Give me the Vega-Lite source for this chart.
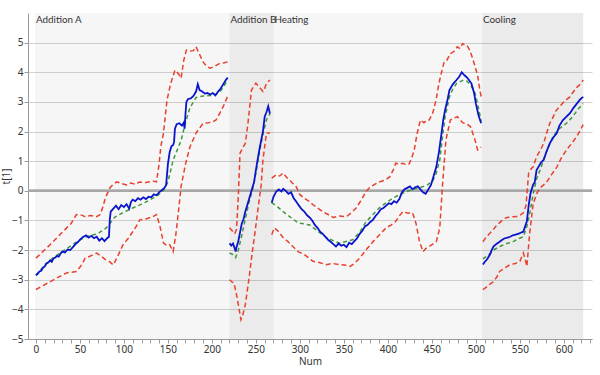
{
  "$schema": "https://vega.github.io/schema/vega-lite/v6.json",
  "width": 564,
  "height": 326,
  "autosize": "none",
  "padding": {"left": 28, "top": 13, "right": 8, "bottom": 36},
  "background": "white",
  "config": {
    "view": {"stroke": null},
    "axis": {"labelFont": "Noto Sans", "titleFont": "Noto Sans", "labelColor": "#333", "titleColor": "#333", "labelFontSize": 10, "titleFontSize": 10, "titleFontWeight": "normal", "domainColor": "#9a9a9a", "tickColor": "#9a9a9a", "labelOverlap": false},
    "axisX": {"tickSize": 4, "labelPadding": 1, "grid": false, "titlePadding": 2, "labelFlush": false},
    "axisY": {"grid": true, "gridColor": "#d4d4d4", "labelPadding": 1, "titlePadding": 0}
  },
  "datasets": {
    "bands": [
      {"phase": "Addition A", "start": -1, "end": 220},
      {"phase": "Addition B", "start": 220, "end": 270},
      {"phase": "Heating", "start": 270, "end": 507},
      {"phase": "Cooling", "start": 507, "end": 622}
    ],
    "pts": [
      {"s":"up","p":"A","n":0,"v":-2.27},{"s":"up","p":"A","n":8,"v":-2.05},{"s":"up","p":"A","n":16,"v":-1.82},{"s":"up","p":"A","n":25,"v":-1.55},{"s":"up","p":"A","n":35,"v":-1.25},{"s":"up","p":"A","n":40,"v":-1.1},{"s":"up","p":"A","n":46,"v":-0.8},{"s":"up","p":"A","n":52,"v":-0.82},{"s":"up","p":"A","n":56,"v":-0.87},{"s":"up","p":"A","n":62,"v":-0.83},{"s":"up","p":"A","n":69,"v":-0.87},{"s":"up","p":"A","n":73,"v":-0.8},{"s":"up","p":"A","n":76,"v":-0.55},{"s":"up","p":"A","n":79,"v":-0.24},{"s":"up","p":"A","n":84,"v":0.1},{"s":"up","p":"A","n":88,"v":0.22},{"s":"up","p":"A","n":92,"v":0.3},{"s":"up","p":"A","n":97,"v":0.25},{"s":"up","p":"A","n":103,"v":0.2},{"s":"up","p":"A","n":108,"v":0.26},{"s":"up","p":"A","n":113,"v":0.22},{"s":"up","p":"A","n":118,"v":0.3},{"s":"up","p":"A","n":125,"v":0.28},{"s":"up","p":"A","n":133,"v":0.33},{"s":"up","p":"A","n":137,"v":0.3},{"s":"up","p":"A","n":140,"v":0.9},{"s":"up","p":"A","n":142,"v":1.5},{"s":"up","p":"A","n":145,"v":1.95},{"s":"up","p":"A","n":149,"v":3.06},{"s":"up","p":"A","n":153,"v":3.6},{"s":"up","p":"A","n":158,"v":4.07},{"s":"up","p":"A","n":162,"v":3.95},{"s":"up","p":"A","n":165,"v":3.8},{"s":"up","p":"A","n":168,"v":4.4},{"s":"up","p":"A","n":171,"v":4.75},{"s":"up","p":"A","n":175,"v":4.72},{"s":"up","p":"A","n":179,"v":4.73},{"s":"up","p":"A","n":182,"v":4.86},{"s":"up","p":"A","n":186,"v":4.6},{"s":"up","p":"A","n":190,"v":4.35},{"s":"up","p":"A","n":194,"v":4.2},{"s":"up","p":"A","n":198,"v":4.14},{"s":"up","p":"A","n":203,"v":4.2},{"s":"up","p":"A","n":209,"v":4.3},{"s":"up","p":"A","n":214,"v":4.32},{"s":"up","p":"A","n":219,"v":4.36},
      {"s":"lo","p":"A","n":0,"v":-3.33},{"s":"lo","p":"A","n":8,"v":-3.2},{"s":"lo","p":"A","n":16,"v":-3.07},{"s":"lo","p":"A","n":25,"v":-2.92},{"s":"lo","p":"A","n":35,"v":-2.77},{"s":"lo","p":"A","n":46,"v":-2.72},{"s":"lo","p":"A","n":52,"v":-2.5},{"s":"lo","p":"A","n":56,"v":-2.27},{"s":"lo","p":"A","n":62,"v":-2.2},{"s":"lo","p":"A","n":69,"v":-2.1},{"s":"lo","p":"A","n":74,"v":-2.2},{"s":"lo","p":"A","n":79,"v":-2.32},{"s":"lo","p":"A","n":84,"v":-2.4},{"s":"lo","p":"A","n":88,"v":-2.5},{"s":"lo","p":"A","n":93,"v":-2.2},{"s":"lo","p":"A","n":99,"v":-1.82},{"s":"lo","p":"A","n":105,"v":-1.6},{"s":"lo","p":"A","n":110,"v":-1.38},{"s":"lo","p":"A","n":114,"v":-1.2},{"s":"lo","p":"A","n":118,"v":-0.98},{"s":"lo","p":"A","n":125,"v":-0.95},{"s":"lo","p":"A","n":133,"v":-0.87},{"s":"lo","p":"A","n":137,"v":-0.8},{"s":"lo","p":"A","n":141,"v":-1.2},{"s":"lo","p":"A","n":145,"v":-1.76},{"s":"lo","p":"A","n":149,"v":-1.85},{"s":"lo","p":"A","n":152,"v":-1.82},{"s":"lo","p":"A","n":156,"v":-2.05},{"s":"lo","p":"A","n":159,"v":-1.48},{"s":"lo","p":"A","n":162,"v":-0.7},{"s":"lo","p":"A","n":165,"v":0.15},{"s":"lo","p":"A","n":170,"v":0.9},{"s":"lo","p":"A","n":175,"v":1.48},{"s":"lo","p":"A","n":182,"v":1.95},{"s":"lo","p":"A","n":190,"v":2.28},{"s":"lo","p":"A","n":196,"v":2.3},{"s":"lo","p":"A","n":201,"v":2.32},{"s":"lo","p":"A","n":205,"v":2.4},{"s":"lo","p":"A","n":209,"v":2.62},{"s":"lo","p":"A","n":213,"v":2.85},{"s":"lo","p":"A","n":218,"v":3.2},
      {"s":"avg","p":"A","n":0,"v":-2.85},{"s":"avg","p":"A","n":10,"v":-2.5},{"s":"avg","p":"A","n":20,"v":-2.25},{"s":"avg","p":"A","n":30,"v":-2.05},{"s":"avg","p":"A","n":40,"v":-1.85},{"s":"avg","p":"A","n":50,"v":-1.65},{"s":"avg","p":"A","n":60,"v":-1.52},{"s":"avg","p":"A","n":70,"v":-1.45},{"s":"avg","p":"A","n":80,"v":-1.25},{"s":"avg","p":"A","n":90,"v":-0.88},{"s":"avg","p":"A","n":100,"v":-0.72},{"s":"avg","p":"A","n":110,"v":-0.58},{"s":"avg","p":"A","n":120,"v":-0.45},{"s":"avg","p":"A","n":130,"v":-0.3},{"s":"avg","p":"A","n":140,"v":-0.12},{"s":"avg","p":"A","n":145,"v":0.02},{"s":"avg","p":"A","n":150,"v":0.3},{"s":"avg","p":"A","n":156,"v":1.04},{"s":"avg","p":"A","n":165,"v":1.7},{"s":"avg","p":"A","n":170,"v":2.3},{"s":"avg","p":"A","n":175,"v":2.8},{"s":"avg","p":"A","n":182,"v":3.15},{"s":"avg","p":"A","n":190,"v":3.2},{"s":"avg","p":"A","n":200,"v":3.22},{"s":"avg","p":"A","n":208,"v":3.3},{"s":"avg","p":"A","n":213,"v":3.5},{"s":"avg","p":"A","n":218,"v":3.75},
      {"s":"t","p":"A","n":0,"v":-2.85},{"s":"t","p":"A","n":2,"v":-2.8},{"s":"t","p":"A","n":4,"v":-2.72},{"s":"t","p":"A","n":6,"v":-2.7},{"s":"t","p":"A","n":8,"v":-2.6},{"s":"t","p":"A","n":10,"v":-2.55},{"s":"t","p":"A","n":12,"v":-2.45},{"s":"t","p":"A","n":14,"v":-2.42},{"s":"t","p":"A","n":16,"v":-2.35},{"s":"t","p":"A","n":18,"v":-2.4},{"s":"t","p":"A","n":20,"v":-2.28},{"s":"t","p":"A","n":22,"v":-2.25},{"s":"t","p":"A","n":24,"v":-2.2},{"s":"t","p":"A","n":26,"v":-2.22},{"s":"t","p":"A","n":28,"v":-2.12},{"s":"t","p":"A","n":30,"v":-2.05},{"s":"t","p":"A","n":33,"v":-2.08},{"s":"t","p":"A","n":36,"v":-1.98},{"s":"t","p":"A","n":39,"v":-2.0},{"s":"t","p":"A","n":42,"v":-1.9},{"s":"t","p":"A","n":45,"v":-1.8},{"s":"t","p":"A","n":48,"v":-1.72},{"s":"t","p":"A","n":51,"v":-1.62},{"s":"t","p":"A","n":54,"v":-1.55},{"s":"t","p":"A","n":57,"v":-1.5},{"s":"t","p":"A","n":60,"v":-1.58},{"s":"t","p":"A","n":63,"v":-1.52},{"s":"t","p":"A","n":66,"v":-1.6},{"s":"t","p":"A","n":69,"v":-1.55},{"s":"t","p":"A","n":72,"v":-1.68},{"s":"t","p":"A","n":75,"v":-1.6},{"s":"t","p":"A","n":78,"v":-1.7},{"s":"t","p":"A","n":81,"v":-1.6},{"s":"t","p":"A","n":83,"v":-1.55},{"s":"t","p":"A","n":84,"v":-0.95},{"s":"t","p":"A","n":85,"v":-0.7},{"s":"t","p":"A","n":88,"v":-0.6},{"s":"t","p":"A","n":91,"v":-0.5},{"s":"t","p":"A","n":94,"v":-0.62},{"s":"t","p":"A","n":97,"v":-0.48},{"s":"t","p":"A","n":100,"v":-0.55},{"s":"t","p":"A","n":103,"v":-0.45},{"s":"t","p":"A","n":106,"v":-0.6},{"s":"t","p":"A","n":108,"v":-0.38},{"s":"t","p":"A","n":110,"v":-0.3},{"s":"t","p":"A","n":113,"v":-0.35},{"s":"t","p":"A","n":116,"v":-0.25},{"s":"t","p":"A","n":119,"v":-0.3},{"s":"t","p":"A","n":122,"v":-0.22},{"s":"t","p":"A","n":125,"v":-0.28},{"s":"t","p":"A","n":128,"v":-0.2},{"s":"t","p":"A","n":131,"v":-0.22},{"s":"t","p":"A","n":134,"v":-0.12},{"s":"t","p":"A","n":137,"v":-0.15},{"s":"t","p":"A","n":140,"v":-0.05},{"s":"t","p":"A","n":143,"v":0.02},{"s":"t","p":"A","n":146,"v":0.1},{"s":"t","p":"A","n":148,"v":0.2},{"s":"t","p":"A","n":150,"v":0.9},{"s":"t","p":"A","n":152,"v":1.3},{"s":"t","p":"A","n":154,"v":1.5},{"s":"t","p":"A","n":156,"v":1.55},{"s":"t","p":"A","n":157,"v":1.65},{"s":"t","p":"A","n":158,"v":2.1},{"s":"t","p":"A","n":160,"v":2.25},{"s":"t","p":"A","n":163,"v":2.28},{"s":"t","p":"A","n":166,"v":2.2},{"s":"t","p":"A","n":168,"v":2.3},{"s":"t","p":"A","n":169,"v":2.1},{"s":"t","p":"A","n":170,"v":2.6},{"s":"t","p":"A","n":171,"v":3.0},{"s":"t","p":"A","n":173,"v":3.1},{"s":"t","p":"A","n":176,"v":3.12},{"s":"t","p":"A","n":179,"v":3.2},{"s":"t","p":"A","n":182,"v":3.35},{"s":"t","p":"A","n":184,"v":3.6},{"s":"t","p":"A","n":186,"v":3.4},{"s":"t","p":"A","n":189,"v":3.35},{"s":"t","p":"A","n":192,"v":3.28},{"s":"t","p":"A","n":195,"v":3.3},{"s":"t","p":"A","n":198,"v":3.25},{"s":"t","p":"A","n":201,"v":3.3},{"s":"t","p":"A","n":204,"v":3.22},{"s":"t","p":"A","n":207,"v":3.35},{"s":"t","p":"A","n":210,"v":3.45},{"s":"t","p":"A","n":213,"v":3.6},{"s":"t","p":"A","n":216,"v":3.75},{"s":"t","p":"A","n":218,"v":3.82},

      {"s":"up","p":"B","n":220,"v":-1.25},{"s":"up","p":"B","n":223,"v":-1.35},{"s":"up","p":"B","n":226,"v":-1.45},{"s":"up","p":"B","n":228,"v":-1.3},{"s":"up","p":"B","n":230,"v":-0.2},{"s":"up","p":"B","n":232,"v":1.27},{"s":"up","p":"B","n":235,"v":1.45},{"s":"up","p":"B","n":238,"v":1.6},{"s":"up","p":"B","n":241,"v":2.28},{"s":"up","p":"B","n":245,"v":3.4},{"s":"up","p":"B","n":248,"v":3.55},{"s":"up","p":"B","n":250,"v":3.63},{"s":"up","p":"B","n":254,"v":3.5},{"s":"up","p":"B","n":258,"v":3.35},{"s":"up","p":"B","n":260,"v":3.45},{"s":"up","p":"B","n":262,"v":3.63},{"s":"up","p":"B","n":266,"v":3.74},
      {"s":"lo","p":"B","n":220,"v":-3.0},{"s":"lo","p":"B","n":223,"v":-3.08},{"s":"lo","p":"B","n":225,"v":-3.1},{"s":"lo","p":"B","n":228,"v":-3.5},{"s":"lo","p":"B","n":231,"v":-4.0},{"s":"lo","p":"B","n":233,"v":-4.35},{"s":"lo","p":"B","n":235,"v":-4.2},{"s":"lo","p":"B","n":238,"v":-3.84},{"s":"lo","p":"B","n":242,"v":-3.0},{"s":"lo","p":"B","n":246,"v":-2.05},{"s":"lo","p":"B","n":249,"v":-1.4},{"s":"lo","p":"B","n":252,"v":-0.7},{"s":"lo","p":"B","n":256,"v":0.2},{"s":"lo","p":"B","n":258,"v":1.04},{"s":"lo","p":"B","n":262,"v":1.95},{"s":"lo","p":"B","n":266,"v":1.95},
      {"s":"avg","p":"B","n":220,"v":-2.1},{"s":"avg","p":"B","n":224,"v":-2.15},{"s":"avg","p":"B","n":227,"v":-2.25},{"s":"avg","p":"B","n":230,"v":-2.0},{"s":"avg","p":"B","n":234,"v":-1.5},{"s":"avg","p":"B","n":238,"v":-0.95},{"s":"avg","p":"B","n":242,"v":-0.4},{"s":"avg","p":"B","n":246,"v":0.0},{"s":"avg","p":"B","n":250,"v":0.6},{"s":"avg","p":"B","n":254,"v":1.3},{"s":"avg","p":"B","n":258,"v":1.9},{"s":"avg","p":"B","n":262,"v":2.4},{"s":"avg","p":"B","n":266,"v":2.6},
      {"s":"t","p":"B","n":220,"v":-1.77},{"s":"t","p":"B","n":222,"v":-1.85},{"s":"t","p":"B","n":224,"v":-1.78},{"s":"t","p":"B","n":226,"v":-1.95},{"s":"t","p":"B","n":227,"v":-2.05},{"s":"t","p":"B","n":228,"v":-1.9},{"s":"t","p":"B","n":230,"v":-1.7},{"s":"t","p":"B","n":232,"v":-1.4},{"s":"t","p":"B","n":234,"v":-1.1},{"s":"t","p":"B","n":236,"v":-0.95},{"s":"t","p":"B","n":238,"v":-0.7},{"s":"t","p":"B","n":240,"v":-0.5},{"s":"t","p":"B","n":242,"v":-0.3},{"s":"t","p":"B","n":244,"v":-0.1},{"s":"t","p":"B","n":246,"v":0.1},{"s":"t","p":"B","n":248,"v":0.3},{"s":"t","p":"B","n":250,"v":0.7},{"s":"t","p":"B","n":252,"v":1.05},{"s":"t","p":"B","n":254,"v":1.4},{"s":"t","p":"B","n":256,"v":1.7},{"s":"t","p":"B","n":258,"v":2.0},{"s":"t","p":"B","n":260,"v":2.5},{"s":"t","p":"B","n":262,"v":2.65},{"s":"t","p":"B","n":264,"v":2.85},{"s":"t","p":"B","n":266,"v":2.6},

      {"s":"up","p":"H","n":268,"v":0.43},{"s":"up","p":"H","n":273,"v":0.54},{"s":"up","p":"H","n":277,"v":0.5},{"s":"up","p":"H","n":281,"v":0.6},{"s":"up","p":"H","n":285,"v":0.45},{"s":"up","p":"H","n":288,"v":0.37},{"s":"up","p":"H","n":292,"v":0.25},{"s":"up","p":"H","n":296,"v":0.13},{"s":"up","p":"H","n":300,"v":-0.13},{"s":"up","p":"H","n":305,"v":-0.25},{"s":"up","p":"H","n":310,"v":-0.35},{"s":"up","p":"H","n":315,"v":-0.47},{"s":"up","p":"H","n":320,"v":-0.58},{"s":"up","p":"H","n":326,"v":-0.7},{"s":"up","p":"H","n":332,"v":-0.8},{"s":"up","p":"H","n":338,"v":-0.9},{"s":"up","p":"H","n":345,"v":-0.85},{"s":"up","p":"H","n":353,"v":-0.87},{"s":"up","p":"H","n":358,"v":-0.75},{"s":"up","p":"H","n":364,"v":-0.58},{"s":"up","p":"H","n":370,"v":-0.3},{"s":"up","p":"H","n":375,"v":-0.03},{"s":"up","p":"H","n":379,"v":0.1},{"s":"up","p":"H","n":384,"v":0.2},{"s":"up","p":"H","n":390,"v":0.3},{"s":"up","p":"H","n":396,"v":0.35},{"s":"up","p":"H","n":402,"v":0.47},{"s":"up","p":"H","n":406,"v":0.7},{"s":"up","p":"H","n":409,"v":0.93},{"s":"up","p":"H","n":413,"v":0.9},{"s":"up","p":"H","n":417,"v":0.93},{"s":"up","p":"H","n":421,"v":0.88},{"s":"up","p":"H","n":424,"v":0.9},{"s":"up","p":"H","n":427,"v":1.1},{"s":"up","p":"H","n":430,"v":1.38},{"s":"up","p":"H","n":433,"v":1.9},{"s":"up","p":"H","n":437,"v":2.39},{"s":"up","p":"H","n":441,"v":2.3},{"s":"up","p":"H","n":444,"v":2.38},{"s":"up","p":"H","n":447,"v":2.39},{"s":"up","p":"H","n":451,"v":2.62},{"s":"up","p":"H","n":455,"v":3.1},{"s":"up","p":"H","n":458,"v":3.62},{"s":"up","p":"H","n":461,"v":4.0},{"s":"up","p":"H","n":464,"v":4.35},{"s":"up","p":"H","n":467,"v":4.4},{"s":"up","p":"H","n":471,"v":4.63},{"s":"up","p":"H","n":475,"v":4.7},{"s":"up","p":"H","n":479,"v":4.86},{"s":"up","p":"H","n":482,"v":4.8},{"s":"up","p":"H","n":485,"v":4.97},{"s":"up","p":"H","n":488,"v":4.9},{"s":"up","p":"H","n":490,"v":4.9},{"s":"up","p":"H","n":493,"v":4.75},{"s":"up","p":"H","n":496,"v":4.5},{"s":"up","p":"H","n":499,"v":4.2},{"s":"up","p":"H","n":502,"v":3.9},{"s":"up","p":"H","n":504,"v":3.5},{"s":"up","p":"H","n":506,"v":3.17},
      {"s":"lo","p":"H","n":268,"v":-1.48},{"s":"lo","p":"H","n":271,"v":-1.25},{"s":"lo","p":"H","n":275,"v":-1.35},{"s":"lo","p":"H","n":281,"v":-1.58},{"s":"lo","p":"H","n":286,"v":-1.7},{"s":"lo","p":"H","n":292,"v":-1.88},{"s":"lo","p":"H","n":298,"v":-2.05},{"s":"lo","p":"H","n":305,"v":-2.15},{"s":"lo","p":"H","n":315,"v":-2.38},{"s":"lo","p":"H","n":322,"v":-2.42},{"s":"lo","p":"H","n":330,"v":-2.49},{"s":"lo","p":"H","n":337,"v":-2.45},{"s":"lo","p":"H","n":345,"v":-2.49},{"s":"lo","p":"H","n":351,"v":-2.5},{"s":"lo","p":"H","n":357,"v":-2.55},{"s":"lo","p":"H","n":362,"v":-2.45},{"s":"lo","p":"H","n":368,"v":-2.27},{"s":"lo","p":"H","n":375,"v":-2.0},{"s":"lo","p":"H","n":383,"v":-1.72},{"s":"lo","p":"H","n":390,"v":-1.5},{"s":"lo","p":"H","n":398,"v":-1.25},{"s":"lo","p":"H","n":404,"v":-1.15},{"s":"lo","p":"H","n":409,"v":-1.03},{"s":"lo","p":"H","n":413,"v":-0.85},{"s":"lo","p":"H","n":417,"v":-0.7},{"s":"lo","p":"H","n":422,"v":-0.75},{"s":"lo","p":"H","n":428,"v":-0.74},{"s":"lo","p":"H","n":432,"v":-1.1},{"s":"lo","p":"H","n":436,"v":-1.72},{"s":"lo","p":"H","n":440,"v":-2.05},{"s":"lo","p":"H","n":443,"v":-1.95},{"s":"lo","p":"H","n":447,"v":-1.88},{"s":"lo","p":"H","n":451,"v":-1.8},{"s":"lo","p":"H","n":455,"v":-1.72},{"s":"lo","p":"H","n":459,"v":-1.25},{"s":"lo","p":"H","n":462,"v":0.15},{"s":"lo","p":"H","n":466,"v":1.72},{"s":"lo","p":"H","n":471,"v":2.39},{"s":"lo","p":"H","n":475,"v":2.45},{"s":"lo","p":"H","n":479,"v":2.5},{"s":"lo","p":"H","n":485,"v":2.3},{"s":"lo","p":"H","n":490,"v":2.25},{"s":"lo","p":"H","n":494,"v":2.16},{"s":"lo","p":"H","n":499,"v":1.72},{"s":"lo","p":"H","n":502,"v":1.38},{"s":"lo","p":"H","n":506,"v":1.48},
      {"s":"avg","p":"H","n":268,"v":-0.4},{"s":"avg","p":"H","n":275,"v":-0.55},{"s":"avg","p":"H","n":285,"v":-0.8},{"s":"avg","p":"H","n":298,"v":-1.08},{"s":"avg","p":"H","n":311,"v":-1.15},{"s":"avg","p":"H","n":320,"v":-1.35},{"s":"avg","p":"H","n":330,"v":-1.58},{"s":"avg","p":"H","n":345,"v":-1.77},{"s":"avg","p":"H","n":360,"v":-1.65},{"s":"avg","p":"H","n":368,"v":-1.4},{"s":"avg","p":"H","n":375,"v":-1.05},{"s":"avg","p":"H","n":383,"v":-0.8},{"s":"avg","p":"H","n":390,"v":-0.58},{"s":"avg","p":"H","n":398,"v":-0.4},{"s":"avg","p":"H","n":406,"v":-0.24},{"s":"avg","p":"H","n":414,"v":-0.12},{"s":"avg","p":"H","n":421,"v":-0.03},{"s":"avg","p":"H","n":428,"v":0.05},{"s":"avg","p":"H","n":436,"v":0.1},{"s":"avg","p":"H","n":445,"v":0.2},{"s":"avg","p":"H","n":451,"v":0.33},{"s":"avg","p":"H","n":455,"v":0.6},{"s":"avg","p":"H","n":459,"v":1.04},{"s":"avg","p":"H","n":462,"v":1.8},{"s":"avg","p":"H","n":465,"v":2.5},{"s":"avg","p":"H","n":470,"v":3.17},{"s":"avg","p":"H","n":474,"v":3.45},{"s":"avg","p":"H","n":478,"v":3.62},{"s":"avg","p":"H","n":486,"v":3.74},{"s":"avg","p":"H","n":490,"v":3.7},{"s":"avg","p":"H","n":494,"v":3.57},{"s":"avg","p":"H","n":499,"v":3.3},{"s":"avg","p":"H","n":503,"v":2.8},{"s":"avg","p":"H","n":506,"v":2.35},
      {"s":"t","p":"H","n":268,"v":-0.4},{"s":"t","p":"H","n":270,"v":-0.2},{"s":"t","p":"H","n":273,"v":-0.03},{"s":"t","p":"H","n":276,"v":0.05},{"s":"t","p":"H","n":279,"v":-0.02},{"s":"t","p":"H","n":281,"v":0.07},{"s":"t","p":"H","n":284,"v":0.0},{"s":"t","p":"H","n":287,"v":-0.1},{"s":"t","p":"H","n":290,"v":-0.05},{"s":"t","p":"H","n":293,"v":-0.25},{"s":"t","p":"H","n":296,"v":-0.37},{"s":"t","p":"H","n":299,"v":-0.5},{"s":"t","p":"H","n":302,"v":-0.62},{"s":"t","p":"H","n":305,"v":-0.7},{"s":"t","p":"H","n":308,"v":-0.82},{"s":"t","p":"H","n":311,"v":-0.9},{"s":"t","p":"H","n":314,"v":-1.0},{"s":"t","p":"H","n":317,"v":-1.15},{"s":"t","p":"H","n":320,"v":-1.25},{"s":"t","p":"H","n":323,"v":-1.38},{"s":"t","p":"H","n":326,"v":-1.45},{"s":"t","p":"H","n":329,"v":-1.55},{"s":"t","p":"H","n":332,"v":-1.65},{"s":"t","p":"H","n":335,"v":-1.72},{"s":"t","p":"H","n":338,"v":-1.8},{"s":"t","p":"H","n":341,"v":-1.88},{"s":"t","p":"H","n":344,"v":-1.78},{"s":"t","p":"H","n":347,"v":-1.85},{"s":"t","p":"H","n":350,"v":-1.82},{"s":"t","p":"H","n":353,"v":-1.9},{"s":"t","p":"H","n":356,"v":-1.75},{"s":"t","p":"H","n":359,"v":-1.8},{"s":"t","p":"H","n":362,"v":-1.7},{"s":"t","p":"H","n":365,"v":-1.6},{"s":"t","p":"H","n":368,"v":-1.45},{"s":"t","p":"H","n":371,"v":-1.35},{"s":"t","p":"H","n":374,"v":-1.2},{"s":"t","p":"H","n":377,"v":-1.15},{"s":"t","p":"H","n":380,"v":-1.05},{"s":"t","p":"H","n":383,"v":-0.98},{"s":"t","p":"H","n":386,"v":-0.85},{"s":"t","p":"H","n":389,"v":-0.75},{"s":"t","p":"H","n":392,"v":-0.62},{"s":"t","p":"H","n":395,"v":-0.58},{"s":"t","p":"H","n":398,"v":-0.5},{"s":"t","p":"H","n":401,"v":-0.42},{"s":"t","p":"H","n":404,"v":-0.45},{"s":"t","p":"H","n":407,"v":-0.35},{"s":"t","p":"H","n":410,"v":-0.4},{"s":"t","p":"H","n":413,"v":-0.28},{"s":"t","p":"H","n":416,"v":-0.05},{"s":"t","p":"H","n":419,"v":0.05},{"s":"t","p":"H","n":422,"v":0.1},{"s":"t","p":"H","n":425,"v":0.15},{"s":"t","p":"H","n":428,"v":0.05},{"s":"t","p":"H","n":431,"v":0.12},{"s":"t","p":"H","n":434,"v":0.15},{"s":"t","p":"H","n":437,"v":0.05},{"s":"t","p":"H","n":440,"v":-0.05},{"s":"t","p":"H","n":443,"v":-0.1},{"s":"t","p":"H","n":446,"v":0.05},{"s":"t","p":"H","n":449,"v":0.2},{"s":"t","p":"H","n":452,"v":0.5},{"s":"t","p":"H","n":455,"v":0.8},{"s":"t","p":"H","n":458,"v":1.3},{"s":"t","p":"H","n":461,"v":1.95},{"s":"t","p":"H","n":463,"v":2.4},{"s":"t","p":"H","n":465,"v":2.72},{"s":"t","p":"H","n":468,"v":3.1},{"s":"t","p":"H","n":470,"v":3.4},{"s":"t","p":"H","n":474,"v":3.6},{"s":"t","p":"H","n":478,"v":3.74},{"s":"t","p":"H","n":481,"v":3.85},{"s":"t","p":"H","n":484,"v":4.0},{"s":"t","p":"H","n":487,"v":3.9},{"s":"t","p":"H","n":489,"v":3.85},{"s":"t","p":"H","n":492,"v":3.75},{"s":"t","p":"H","n":495,"v":3.62},{"s":"t","p":"H","n":498,"v":3.3},{"s":"t","p":"H","n":500,"v":2.95},{"s":"t","p":"H","n":503,"v":2.55},{"s":"t","p":"H","n":506,"v":2.28},

      {"s":"up","p":"C","n":508,"v":-1.72},{"s":"up","p":"C","n":512,"v":-1.55},{"s":"up","p":"C","n":516,"v":-1.43},{"s":"up","p":"C","n":520,"v":-1.3},{"s":"up","p":"C","n":524,"v":-1.15},{"s":"up","p":"C","n":530,"v":-1.0},{"s":"up","p":"C","n":535,"v":-0.9},{"s":"up","p":"C","n":541,"v":-0.88},{"s":"up","p":"C","n":547,"v":-0.87},{"s":"up","p":"C","n":551,"v":-0.8},{"s":"up","p":"C","n":554,"v":-0.74},{"s":"up","p":"C","n":557,"v":-0.5},{"s":"up","p":"C","n":558,"v":-0.13},{"s":"up","p":"C","n":560,"v":0.6},{"s":"up","p":"C","n":563,"v":0.75},{"s":"up","p":"C","n":565,"v":0.8},{"s":"up","p":"C","n":569,"v":1.15},{"s":"up","p":"C","n":573,"v":1.35},{"s":"up","p":"C","n":577,"v":1.6},{"s":"up","p":"C","n":581,"v":2.0},{"s":"up","p":"C","n":584,"v":2.28},{"s":"up","p":"C","n":588,"v":2.5},{"s":"up","p":"C","n":591,"v":2.7},{"s":"up","p":"C","n":595,"v":2.84},{"s":"up","p":"C","n":600,"v":3.0},{"s":"up","p":"C","n":604,"v":3.1},{"s":"up","p":"C","n":607,"v":3.17},{"s":"up","p":"C","n":611,"v":3.35},{"s":"up","p":"C","n":615,"v":3.5},{"s":"up","p":"C","n":619,"v":3.6},{"s":"up","p":"C","n":622,"v":3.74},
      {"s":"lo","p":"C","n":508,"v":-3.33},{"s":"lo","p":"C","n":512,"v":-3.25},{"s":"lo","p":"C","n":516,"v":-3.15},{"s":"lo","p":"C","n":520,"v":-3.07},{"s":"lo","p":"C","n":524,"v":-2.9},{"s":"lo","p":"C","n":527,"v":-2.72},{"s":"lo","p":"C","n":533,"v":-2.6},{"s":"lo","p":"C","n":539,"v":-2.49},{"s":"lo","p":"C","n":545,"v":-2.45},{"s":"lo","p":"C","n":550,"v":-2.38},{"s":"lo","p":"C","n":554,"v":-2.1},{"s":"lo","p":"C","n":556,"v":-2.3},{"s":"lo","p":"C","n":558,"v":-2.55},{"s":"lo","p":"C","n":561,"v":-1.48},{"s":"lo","p":"C","n":565,"v":-0.47},{"s":"lo","p":"C","n":569,"v":-0.1},{"s":"lo","p":"C","n":573,"v":0.1},{"s":"lo","p":"C","n":577,"v":0.2},{"s":"lo","p":"C","n":580,"v":0.27},{"s":"lo","p":"C","n":585,"v":0.5},{"s":"lo","p":"C","n":592,"v":0.8},{"s":"lo","p":"C","n":597,"v":1.1},{"s":"lo","p":"C","n":603,"v":1.38},{"s":"lo","p":"C","n":609,"v":1.6},{"s":"lo","p":"C","n":615,"v":1.85},{"s":"lo","p":"C","n":622,"v":2.23},
      {"s":"avg","p":"C","n":508,"v":-2.3},{"s":"avg","p":"C","n":515,"v":-2.15},{"s":"avg","p":"C","n":520,"v":-2.0},{"s":"avg","p":"C","n":527,"v":-1.88},{"s":"avg","p":"C","n":535,"v":-1.78},{"s":"avg","p":"C","n":542,"v":-1.72},{"s":"avg","p":"C","n":548,"v":-1.62},{"s":"avg","p":"C","n":554,"v":-1.55},{"s":"avg","p":"C","n":558,"v":-1.2},{"s":"avg","p":"C","n":561,"v":-0.8},{"s":"avg","p":"C","n":565,"v":-0.13},{"s":"avg","p":"C","n":569,"v":0.4},{"s":"avg","p":"C","n":573,"v":0.7},{"s":"avg","p":"C","n":580,"v":1.3},{"s":"avg","p":"C","n":588,"v":1.85},{"s":"avg","p":"C","n":595,"v":2.1},{"s":"avg","p":"C","n":603,"v":2.28},{"s":"avg","p":"C","n":610,"v":2.5},{"s":"avg","p":"C","n":616,"v":2.75},{"s":"avg","p":"C","n":622,"v":2.95},
      {"s":"t","p":"C","n":508,"v":-2.49},{"s":"t","p":"C","n":510,"v":-2.4},{"s":"t","p":"C","n":513,"v":-2.3},{"s":"t","p":"C","n":516,"v":-2.15},{"s":"t","p":"C","n":518,"v":-2.0},{"s":"t","p":"C","n":520,"v":-1.88},{"s":"t","p":"C","n":523,"v":-1.8},{"s":"t","p":"C","n":527,"v":-1.72},{"s":"t","p":"C","n":530,"v":-1.65},{"s":"t","p":"C","n":533,"v":-1.6},{"s":"t","p":"C","n":536,"v":-1.58},{"s":"t","p":"C","n":539,"v":-1.55},{"s":"t","p":"C","n":542,"v":-1.5},{"s":"t","p":"C","n":545,"v":-1.48},{"s":"t","p":"C","n":548,"v":-1.45},{"s":"t","p":"C","n":550,"v":-1.43},{"s":"t","p":"C","n":552,"v":-1.4},{"s":"t","p":"C","n":554,"v":-1.38},{"s":"t","p":"C","n":556,"v":-1.2},{"s":"t","p":"C","n":558,"v":-1.03},{"s":"t","p":"C","n":560,"v":-0.5},{"s":"t","p":"C","n":562,"v":-0.1},{"s":"t","p":"C","n":565,"v":0.2},{"s":"t","p":"C","n":567,"v":0.3},{"s":"t","p":"C","n":569,"v":0.7},{"s":"t","p":"C","n":571,"v":0.8},{"s":"t","p":"C","n":574,"v":0.95},{"s":"t","p":"C","n":577,"v":1.04},{"s":"t","p":"C","n":580,"v":1.3},{"s":"t","p":"C","n":584,"v":1.6},{"s":"t","p":"C","n":588,"v":1.8},{"s":"t","p":"C","n":592,"v":1.95},{"s":"t","p":"C","n":595,"v":2.2},{"s":"t","p":"C","n":599,"v":2.39},{"s":"t","p":"C","n":603,"v":2.5},{"s":"t","p":"C","n":607,"v":2.62},{"s":"t","p":"C","n":611,"v":2.8},{"s":"t","p":"C","n":615,"v":2.95},{"s":"t","p":"C","n":619,"v":3.1},{"s":"t","p":"C","n":622,"v":3.17}
    ]
  },
  "layer": [
    {
      "data": {"name": "bands"},
      "mark": {"type": "rect"},
      "encoding": {
        "x": {"field": "start", "type": "quantitative", "title": "Num", "scale": {"domain": [-9, 632], "nice": false, "zero": false},
              "axis": {"values": [0,10,20,30,40,50,60,70,80,90,100,110,120,130,140,150,160,170,180,190,200,210,220,230,240,250,260,270,280,290,300,310,320,330,340,350,360,370,380,390,400,410,420,430,440,450,460,470,480,490,500,510,520,530,540,550,560,570,580,590,600,610,620,630], "labelExpr": "datum.value % 50 === 0 ? datum.label : ''", "labelOverlap": false}},
        "x2": {"field": "end"},
        "y": {"datum": -5, "type": "quantitative", "title": "t[1]", "scale": {"domain": [-5, 6], "nice": false},
              "axis": {"values": [-5,-4.5,-4,-3.5,-3,-2.5,-2,-1.5,-1,-0.5,0,0.5,1,1.5,2,2.5,3,3.5,4,4.5,5], "format": "d", "labelExpr": "datum.value % 1 === 0 ? datum.label : ''", "labelOverlap": false, "gridOpacity": {"condition": {"test": "datum.value % 1 === 0", "value": 1}, "value": 0}, "tickSize": {"condition": {"test": "datum.value % 1 === 0", "value": 4}, "value": 2}}},
        "y2": {"datum": 6},
        "fill": {"field": "phase", "type": "nominal", "legend": null,
                 "scale": {"domain": ["Addition A", "Addition B", "Heating", "Cooling"], "range": ["rgba(0,0,0,0.035)", "rgba(0,0,0,0.08)", "rgba(0,0,0,0.035)", "rgba(0,0,0,0.08)"]}}
      }
    },
    {
      "data": {"name": "bands"},
      "mark": {"type": "rule", "color": "#a8a8a8", "strokeWidth": 2},
      "encoding": {
        "y": {"datum": 0, "type": "quantitative", "title": "t[1]",
              "axis": {"values": [-5,-4.5,-4,-3.5,-3,-2.5,-2,-1.5,-1,-0.5,0,0.5,1,1.5,2,2.5,3,3.5,4,4.5,5], "format": "d", "labelExpr": "datum.value % 1 === 0 ? datum.label : ''", "labelOverlap": false, "gridOpacity": {"condition": {"test": "datum.value % 1 === 0", "value": 1}, "value": 0}, "tickSize": {"condition": {"test": "datum.value % 1 === 0", "value": 4}, "value": 2}}}
      }
    },
    {
      "data": {"name": "pts"},
      "transform": [{"filter": "datum.s === 'up' || datum.s === 'lo'"}],
      "mark": {"type": "line", "color": "#e8412f", "strokeWidth": 1.5, "strokeDash": [5, 3]},
      "encoding": {
        "x": {"field": "n", "type": "quantitative", "title": "Num",
              "axis": {"values": [0,10,20,30,40,50,60,70,80,90,100,110,120,130,140,150,160,170,180,190,200,210,220,230,240,250,260,270,280,290,300,310,320,330,340,350,360,370,380,390,400,410,420,430,440,450,460,470,480,490,500,510,520,530,540,550,560,570,580,590,600,610,620,630], "labelExpr": "datum.value % 50 === 0 ? datum.label : ''", "labelOverlap": false}},
        "y": {"field": "v", "type": "quantitative", "title": "t[1]",
              "axis": {"values": [-5,-4.5,-4,-3.5,-3,-2.5,-2,-1.5,-1,-0.5,0,0.5,1,1.5,2,2.5,3,3.5,4,4.5,5], "format": "d", "labelExpr": "datum.value % 1 === 0 ? datum.label : ''", "labelOverlap": false, "gridOpacity": {"condition": {"test": "datum.value % 1 === 0", "value": 1}, "value": 0}, "tickSize": {"condition": {"test": "datum.value % 1 === 0", "value": 4}, "value": 2}}},
        "detail": [{"field": "s"}, {"field": "p"}]
      }
    },
    {
      "data": {"name": "pts"},
      "transform": [{"filter": "datum.s === 'avg'"}],
      "mark": {"type": "line", "color": "#3c9a3c", "strokeWidth": 1.5, "strokeDash": [4, 3]},
      "encoding": {
        "x": {"field": "n", "type": "quantitative", "title": "Num",
              "axis": {"values": [0,10,20,30,40,50,60,70,80,90,100,110,120,130,140,150,160,170,180,190,200,210,220,230,240,250,260,270,280,290,300,310,320,330,340,350,360,370,380,390,400,410,420,430,440,450,460,470,480,490,500,510,520,530,540,550,560,570,580,590,600,610,620,630], "labelExpr": "datum.value % 50 === 0 ? datum.label : ''", "labelOverlap": false}},
        "y": {"field": "v", "type": "quantitative", "title": "t[1]",
              "axis": {"values": [-5,-4.5,-4,-3.5,-3,-2.5,-2,-1.5,-1,-0.5,0,0.5,1,1.5,2,2.5,3,3.5,4,4.5,5], "format": "d", "labelExpr": "datum.value % 1 === 0 ? datum.label : ''", "labelOverlap": false, "gridOpacity": {"condition": {"test": "datum.value % 1 === 0", "value": 1}, "value": 0}, "tickSize": {"condition": {"test": "datum.value % 1 === 0", "value": 4}, "value": 2}}},
        "detail": {"field": "p"}
      }
    },
    {
      "data": {"name": "pts"},
      "transform": [{"filter": "datum.s === 't'"}],
      "mark": {"type": "line", "color": "#0a14cc", "strokeWidth": 1.8},
      "encoding": {
        "x": {"field": "n", "type": "quantitative", "title": "Num",
              "axis": {"values": [0,10,20,30,40,50,60,70,80,90,100,110,120,130,140,150,160,170,180,190,200,210,220,230,240,250,260,270,280,290,300,310,320,330,340,350,360,370,380,390,400,410,420,430,440,450,460,470,480,490,500,510,520,530,540,550,560,570,580,590,600,610,620,630], "labelExpr": "datum.value % 50 === 0 ? datum.label : ''", "labelOverlap": false}},
        "y": {"field": "v", "type": "quantitative", "title": "t[1]",
              "axis": {"values": [-5,-4.5,-4,-3.5,-3,-2.5,-2,-1.5,-1,-0.5,0,0.5,1,1.5,2,2.5,3,3.5,4,4.5,5], "format": "d", "labelExpr": "datum.value % 1 === 0 ? datum.label : ''", "labelOverlap": false, "gridOpacity": {"condition": {"test": "datum.value % 1 === 0", "value": 1}, "value": 0}, "tickSize": {"condition": {"test": "datum.value % 1 === 0", "value": 4}, "value": 2}}},
        "detail": {"field": "p"}
      }
    },
    {
      "data": {"name": "bands"},
      "mark": {"type": "text", "align": "left", "baseline": "top", "dx": 1, "dy": 2, "font": "Lato", "fontSize": 9.8, "color": "#333"},
      "encoding": {
        "x": {"field": "start", "type": "quantitative", "title": "Num",
              "axis": {"values": [0,10,20,30,40,50,60,70,80,90,100,110,120,130,140,150,160,170,180,190,200,210,220,230,240,250,260,270,280,290,300,310,320,330,340,350,360,370,380,390,400,410,420,430,440,450,460,470,480,490,500,510,520,530,540,550,560,570,580,590,600,610,620,630], "labelExpr": "datum.value % 50 === 0 ? datum.label : ''", "labelOverlap": false}},
        "y": {"datum": 6, "type": "quantitative", "title": "t[1]",
              "axis": {"values": [-5,-4.5,-4,-3.5,-3,-2.5,-2,-1.5,-1,-0.5,0,0.5,1,1.5,2,2.5,3,3.5,4,4.5,5], "format": "d", "labelExpr": "datum.value % 1 === 0 ? datum.label : ''", "labelOverlap": false, "gridOpacity": {"condition": {"test": "datum.value % 1 === 0", "value": 1}, "value": 0}, "tickSize": {"condition": {"test": "datum.value % 1 === 0", "value": 4}, "value": 2}}},
        "text": {"field": "phase"}
      }
    }
  ]
}
